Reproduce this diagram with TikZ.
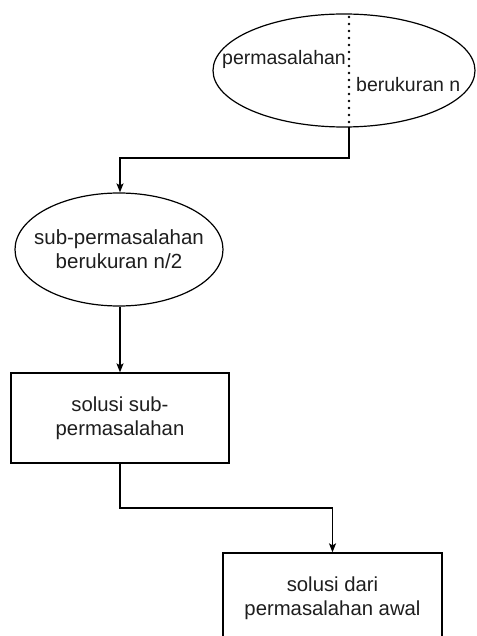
\documentclass[tikz,border=0pt]{standalone}
\usepackage{fontspec}
\setmainfont{Liberation Sans}
\usetikzlibrary{arrows.meta,shapes.geometric}
\definecolor{txt}{HTML}{1E1E1E}
\begin{document}
\begin{tikzpicture}[x=1pt,y=-1pt,
  ln/.style={line width=1.3pt, draw=black},
  arr/.style={ln,-{Stealth[length=9pt,width=7pt,inset=2pt]}},
  ell/.style={ellipse, draw=black, line width=1.2pt, inner sep=0pt},
  etext/.style={inner sep=0pt, align=center, text=txt, font=\fontsize{20.5}{24}\selectfont},
  boxn/.style={rectangle, draw=black, line width=1.3pt, inner sep=0pt, align=center, text=txt, font=\fontsize{20.3}{24}\selectfont},
  lbl/.style={inner sep=0pt, text=txt, font=\fontsize{19.5}{23}\selectfont},
  dotln/.style={line width=2.6pt, line cap=round, dash pattern=on 0pt off 7pt}]
\useasboundingbox (0,0) rectangle (476,636);
\clip (0,0) rectangle (476,636);
\fill[white] (0,0) rectangle (476,636);
% top ellipse
\node[ell, minimum width=262pt, minimum height=113pt] (e1) at (344,70.5) {};
\coordinate (d1) at (349,17);
\coordinate (d2) at (349,127);
\draw[dotln] (d1) -- (d2);
\node[lbl, anchor=base east] (t1) at (346,65) {permasalahan};
\node[lbl, anchor=base west] (t2) at (356,92) {berukuran n};
% second ellipse
\node[ell, minimum width=208pt, minimum height=113pt] (e2) at (119,249.5) {};
\node[etext] (e2t) at (e2.center) {sub-permasalahan\\berukuran n/2};
% boxes
\node[boxn, minimum width=218pt, minimum height=90pt] (r1) at (120,418) {solusi sub-\\permasalahan};
\node[boxn, minimum width=219pt, minimum height=90pt] (r2) at (332.5,598) {solusi dari\\permasalahan awal};
% connectors
\coordinate (b1) at (120,158);
\coordinate (b2) at (120,508);
\draw[arr] (d2) |- (b1) -- (b1 |- e2.north);
\draw[arr] (r1.north |- e2.south) -- (r1.north);
\draw[arr] (r1.south) -- (b2) -| (r2.north);
\end{tikzpicture}
\end{document}
